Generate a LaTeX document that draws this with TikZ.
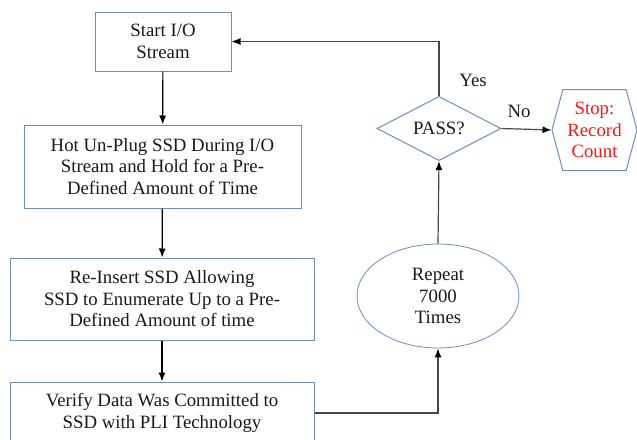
\documentclass[tikz,border=0pt]{standalone}
\usepackage{fontspec}
\setmainfont{Liberation Serif}
\usetikzlibrary{shapes.geometric,shapes.symbols,arrows.meta}
\definecolor{edgeblue}{RGB}{108,142,191}
\definecolor{stopred}{RGB}{255,20,20}
\begin{document}
\begin{tikzpicture}[x=1pt,y=-1pt,
  every node/.style={font=\fontsize{18.8}{21.5}\selectfont, text=black!90, align=center},
  procbox/.style={draw=edgeblue, line width=1pt, rectangle, inner sep=0pt},
  flow/.style={line width=1.2pt, -{Latex[length=9pt,width=7pt,color=black]}},
  loopflow/.style={flow, draw=black!72}]
\clip (0,0) rectangle (637,439);
\useasboundingbox (0,0) rectangle (637,439);

% process steps down the left column
\node[procbox, minimum width=136pt, minimum height=59pt] (start) at (163,41.5) {Start I/O\\Stream};
\node[procbox, minimum width=277pt, minimum height=83pt] (unplug) at (162.5,166.5) {Hot Un-Plug SSD During I/O\\Stream and Hold for a Pre-\\Defined Amount of Time};
\node[procbox, minimum width=304pt, minimum height=82pt] (reinsert) at (162,299) {Re-Insert SSD Allowing\\SSD to Enumerate Up to a Pre-\\Defined Amount of time};
\node[procbox, minimum width=304pt, minimum height=62pt] (verify) at (162,413) {Verify Data Was Committed to\\SSD with PLI Technology};

% loop counter and decision
\node[draw=edgeblue, line width=0.8pt, ellipse, minimum width=162pt, minimum height=104pt, inner sep=0pt] (repeat) at (438,296) {Repeat\\7000\\Times};
\node[draw=edgeblue, line width=1pt, diamond, minimum width=124pt, minimum height=61pt, inner sep=0pt] (pass) at (439,128.5) {PASS?};
\node[draw=edgeblue, line width=1pt, signal, signal to=west and east, signal pointer angle=150,
      minimum width=85pt, minimum height=81pt, inner sep=0pt, text=stopred] (stop) at (594.5,130) {Stop:\\Record\\Count};

% connectors
\draw[flow] (start) -- (unplug);
\draw[flow] (unplug) -- (reinsert);
\draw[flow] (reinsert) -- (verify);
\draw[loopflow] (verify.east) -| (repeat.south);
\draw[loopflow] (repeat.north) -- (pass.south);
\coordinate (yescorner) at (pass.north |- start.east);
\draw[loopflow] (pass.north) -- (yescorner) -- (start.east);
\draw[loopflow] (pass.east) -- (stop.west);

% branch labels
\node (yes) at (473,80) {Yes};
\node (no) at (519,111) {No};
\end{tikzpicture}
\end{document}
